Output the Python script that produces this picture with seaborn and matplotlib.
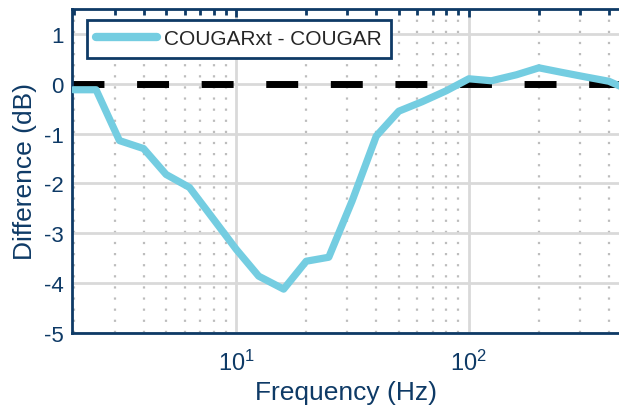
import numpy as np
import pandas as pd
import matplotlib
matplotlib.use("Agg")
import matplotlib.pyplot as plt
import seaborn as sns
from matplotlib.ticker import LogLocator, NullFormatter

# Data (1/3-octave frequencies, difference in dB)
freq = [2, 2.5, 3.15, 4, 5, 6.3, 8, 10, 12.5, 16, 20, 25, 31.5, 40, 50,
        63, 80, 100, 125, 160, 200, 250, 315, 400, 500]
diff_db = [-0.12, -0.12, -1.14, -1.30, -1.82, -2.08, -2.72, -3.32, -3.86, -4.12,
           -3.56, -3.48, -2.35, -1.05, -0.55, -0.36, -0.14, 0.10, 0.06, 0.18,
           0.32, 0.23, 0.14, 0.05, -0.15]
series_name = "COUGARxt - COUGAR"
x_label = "Frequency (Hz)"
y_label = "Difference (dB)"
y_ticks = [-5, -4, -3, -2, -1, 0, 1]

navy = "#0e3a66"
cyan = "#74cde1"

sns.set_style("white")
plt.rcParams['font.family'] = ['Liberation Sans', 'DejaVu Sans']
plt.rcParams['mathtext.fontset'] = 'custom'
plt.rcParams['mathtext.rm'] = 'Liberation Sans'
plt.rcParams['axes.unicode_minus'] = False

df = pd.DataFrame({"Frequency": freq, "Difference": diff_db, "series": series_name})

fig = plt.figure(figsize=(6.19, 4.10), dpi=100)
ax = fig.add_axes([72/619, 1-334/410, 1.003 - 72/619, 324/410])

ax.set_xscale("log")
ax.set_xlim(1.97, 450)
ax.set_ylim(-5, 1.5)
ax.set_yticks(y_ticks)
ax.xaxis.set_major_locator(LogLocator(base=10, numticks=10))
ax.xaxis.set_minor_locator(LogLocator(base=10, subs=np.arange(2, 10), numticks=20))
ax.xaxis.set_minor_formatter(NullFormatter())
ax.grid(True, which="major", axis="both", color="#d9d9d9", lw=2.0, zorder=0)
ax.grid(True, which="minor", axis="x", color="#bdbdbd", lw=1.6,
        linestyle=(0, (1, 4)), zorder=0)

# zero reference
ax.axhline(0, color="black", lw=5, dashes=(4.6, 4.7), zorder=2)

sns.lineplot(data=df, x="Frequency", y="Difference", hue="series",
             palette=[cyan], lw=5.2, ax=ax, zorder=3, legend=True)

for s in ["left", "bottom", "top"]:
    ax.spines[s].set_color(navy)
    ax.spines[s].set_linewidth(2.0)
ax.spines["right"].set_visible(False)

ax.tick_params(axis="both", which="both", direction="in", colors=navy,
               top=True, right=False)
ax.tick_params(axis="y", labelsize=16)
ax.tick_params(axis="x", labelsize=17)
ax.tick_params(axis="both", which="major", length=6, width=2)
ax.tick_params(axis="x", which="minor", length=4, width=2)
ax.tick_params(axis="x", which="major", pad=12)
ax.tick_params(axis="y", which="major", pad=6)
for lab in ax.get_xticklabels() + ax.get_yticklabels():
    lab.set_color(navy)

ax.set_xlabel(x_label, fontsize=19, color=navy, labelpad=4)
ax.set_ylabel(y_label, fontsize=19, color=navy, labelpad=5)

leg = ax.legend(loc="upper left", bbox_to_anchor=(87/619, 1-21/410),
                bbox_transform=fig.transFigure, borderaxespad=0,
                fontsize=15, handlelength=2.9, frameon=True, fancybox=False,
                framealpha=1, edgecolor=navy, borderpad=0.45,
                handletextpad=0.35)
leg.get_frame().set_linewidth(2.0)
leg.set_title(None)
for h in leg.get_lines():
    h.set_linewidth(6)

fig.savefig("out.png", dpi=100)
